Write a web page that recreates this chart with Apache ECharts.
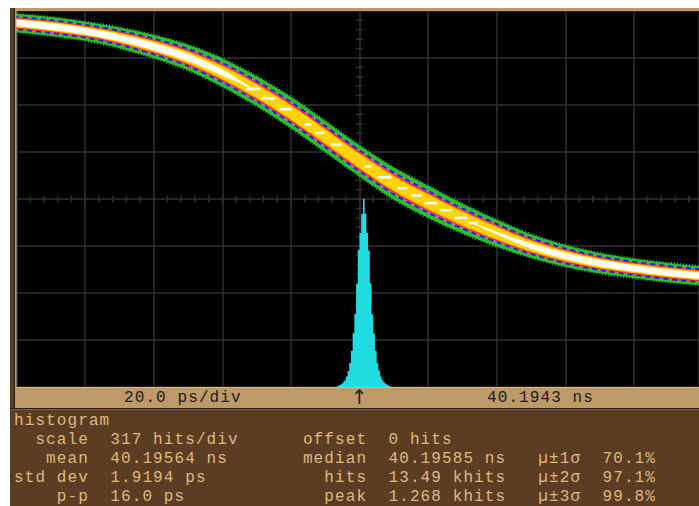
<!DOCTYPE html>
<html><head><meta charset="utf-8">
<style>
html,body{margin:0;padding:0;background:#fff;overflow:hidden}
#c{width:699px;height:506px}
text{letter-spacing:1.1px}
</style>
<script src="https://cdn.jsdelivr.net/npm/echarts@6/dist/echarts.min.js"></script>
</head><body><div id="c"></div>
<script>
// Waveform envelope, sampled in ps relative to screen centre; edges in divisions above the bottom graticule line
const waveTime = [-100,-90,-80,-70,-60,-50,-40,-30,-20,-10,0,10,20,30,40,50,60,70,80,90,99];
const greenTop = [7.94,7.87,7.77,7.65,7.49,7.28,6.99,6.61,6.17,5.66,5.14,4.67,4.28,3.90,3.56,3.25,3.02,2.85,2.73,2.64,2.57];
const greenBottom = [7.55,7.47,7.37,7.21,7.00,6.74,6.39,5.98,5.51,5.00,4.48,3.99,3.60,3.27,2.99,2.75,2.56,2.42,2.32,2.23,2.17];
const whiteShare = [0.34,0.34,0.34,0.33,0.32,0.28,0.22,0,0,0,0,0,0,0,0.1,0.24,0.3,0.33,0.33,0.33,0.33];
const whiteDashes = [[-33.2,-29.1],[-28.5,-24.7],[-23.3,-19.8],[-16,-14],[-12.8,-10.2],[-8.2,-5.2],[1.5,3.5],[5.2,9.3],[11.1,14],[15.1,18],[18.9,22.7],[23.3,26.8],[27.7,31.4],[32,34.4]];
// Histogram bins: ps relative to centre, hits
const histTime = [-6.75,-6.25,-5.75,-5.25,-4.75,-4.25,-3.75,-3.25,-2.75,-2.25,-1.75,-1.25,-0.75,-0.25,0.25,0.75,1.25,1.75,2.25,2.75,3.25,3.75,4.25,4.75,5.25,5.75,6.25,6.75,7.25,7.75,8.25,8.75,9.25];
const histHits = [0,7,13,20,30,44,71,108,162,243,364,492,695,924,1039,1167,1268,1170,1040,920,700,490,360,245,160,110,70,45,30,20,13,7,0];
// Read-out text
const stripLeft = '20.0 ps/div', stripArrow = '↑', stripRight = '40.1943 ns';
const titleText = 'histogram';
const col1 = [['scale',2],['mean',3],['std dev',0],['p-p',4]];
const val1 = ['317 hits/div','40.19564 ns','1.9194 ps','16.0 ps'];
const col2 = [['offset',27],['median',27],['hits',29],['peak',29]];
const val2 = ['0 hits','40.19585 ns','13.49 khits','1.268 khits'];
const sigmaLabels = ['µ±1σ','µ±2σ','µ±3σ'];
const sigmaValues = ['70.1%','97.1%','99.8%'];

const TAN='#bd9a68', BROWN='#5b3d23', DARK='#2a1c10', INK='#dfb87f';
const FONT='16px "Liberation Mono"';
const colX=n=>14+n*10.7, rowY=[421,439.5,458.5,477.5,496.5];
const txt=(s,x,y,fill,align,font)=>({type:'text',z:100,x,y,silent:true,style:{text:s,x:0,y:0,font:font||FONT,fill:fill||INK,align:align||'left',verticalAlign:'middle'}});
const rect=(x,y,w,h,f)=>({type:'rect',z:90,silent:true,shape:{x,y,width:w,height:h},style:{fill:f}});
const g=[rect(10,8,4,400,BROWN),rect(14,8,685,3,TAN),rect(14,8,1,400,DARK),rect(15,11,1.5,376,TAN),
 rect(15,387,684,1,'#d8b888'),rect(15,388,684,20,TAN),rect(10,408,689,1.5,DARK),rect(10,409.5,689,96.5,BROWN),
 txt(stripLeft,124,398,'#1c1c1c'),txt(stripArrow,360,397,'#1c1c1c','center','20px "DejaVu Sans"'),txt(stripRight,487,398,'#1c1c1c'),
 txt(titleText,colX(0),rowY[0])];
col1.forEach((c,i)=>{g.push(txt(c[0],colX(c[1]),rowY[i+1]),txt(val1[i],colX(9),rowY[i+1]),txt(col2[i][0],colX(col2[i][1]),rowY[i+1]),txt(val2[i],colX(35),rowY[i+1]));});
sigmaLabels.forEach((s,i)=>{g.push(txt(s,colX(49),rowY[i+2]),txt(sigmaValues[i],colX(55),rowY[i+2]));});

const layers=[
 {share:1,fill:'#2cbf2c',stroke:'#2cbf2c',dash:[1,2],w:2.5},
 {share:.68,fill:'#f04cc0',stroke:'#1c1cf0',dash:[5,4],w:1.8},
 {share:.58,fill:'#dd1010'},
 {share:.52,fill:'#ff9200'},
 {share:.44,fill:'#ffd400'},
 {share:null,fill:'#ffffff'}];
const centre=i=>(greenTop[i]+greenBottom[i])/2;
const half=i=>(greenTop[i]-greenBottom[i])/2;
function centreAt(t){for(let i=0;i<waveTime.length-1;i++){if(t<=waveTime[i+1]){const f=(t-waveTime[i])/(waveTime[i+1]-waveTime[i]);return centre(i)+f*(centre(i+1)-centre(i));}}return centre(waveTime.length-1);}
function band(l,api){
 const up=[],dn=[],last=waveTime.length-1;
 const s=i=>l.share==null?whiteShare[i]:l.share;
 up.push(api.coord([waveTime[0]-6,centre(0)+half(0)*s(0)+0.04]));
 dn.unshift(api.coord([waveTime[0]-6,centre(0)-half(0)*s(0)+0.04]));
 waveTime.forEach((t,i)=>{up.push(api.coord([t,centre(i)+half(i)*s(i)]));dn.unshift(api.coord([t,centre(i)-half(i)*s(i)]));});
 up.push(api.coord([waveTime[last]+6,centre(last)+half(last)*s(last)-0.04]));
 dn.unshift(api.coord([waveTime[last]+6,centre(last)-half(last)*s(last)-0.04]));
 return up.concat(dn);
}
const ticksX=[],ticksY=[];
for(let t=-100;t<=96;t+=4)ticksX.push(t);
for(let v=0;v<=8;v+=0.2)ticksY.push(+v.toFixed(1));

const option={animation:false,backgroundColor:'#fff',
 grid:{left:16.6,top:11,width:683.6,height:376,show:true,backgroundColor:'#000',borderWidth:0},
 xAxis:{type:'value',min:-100,max:99,interval:20,axisLine:{show:false},axisTick:{show:false},axisLabel:{show:false},splitLine:{show:true,lineStyle:{color:'#303030',width:1.5}}},
 yAxis:[{type:'value',min:0,max:2536,interval:317,axisLine:{show:false},axisTick:{show:false},axisLabel:{show:false},splitLine:{show:true,lineStyle:{color:'#303030',width:1.5}}},
  {type:'value',min:0,max:8,interval:1,show:false}],
 graphic:{elements:g},
 series:[
 {type:'custom',yAxisIndex:1,z:2,clip:true,silent:true,data:ticksX.map(t=>[t,4]),renderItem:(p,api)=>{const c=api.coord([api.value(0),api.value(1)]);
   return {type:'line',shape:{x1:c[0],y1:c[1]-3.5,x2:c[0],y2:c[1]+3.5},style:{stroke:'#303030',lineWidth:1.5}};}},
 {type:'custom',yAxisIndex:1,z:2,clip:true,silent:true,data:ticksY.map(v=>[0,v]),renderItem:(p,api)=>{const c=api.coord([api.value(0),api.value(1)]);
   return {type:'line',shape:{x1:c[0]-3.5,y1:c[1],x2:c[0]+3.5,y2:c[1]},style:{stroke:'#303030',lineWidth:1.5}};}},
 {type:'line',yAxisIndex:0,z:3,silent:true,step:'middle',symbol:'none',lineStyle:{width:0},itemStyle:{color:'#1fdde0'},areaStyle:{color:'#1fdde0',opacity:1},data:histTime.map((t,i)=>[t,histHits[i]])},
 {type:'custom',yAxisIndex:1,z:4,clip:true,silent:true,data:layers.map((l,i)=>[0,4,i]),renderItem:(p,api)=>{const l=layers[api.value(2)];
   return {type:'polygon',shape:{points:band(l,api),smooth:0.3},style:{fill:l.fill,stroke:l.stroke||null,lineWidth:l.w||0,lineDash:l.dash||null}};}},
 {type:'custom',yAxisIndex:1,z:5,clip:true,silent:true,data:whiteDashes.map(d=>[d[0],centreAt((d[0]+d[1])/2),d[1]]),renderItem:(p,api)=>{const a=api.coord([api.value(0),api.value(1)]),b=api.coord([api.value(2),api.value(1)]);
   return {type:'line',shape:{x1:a[0],y1:a[1],x2:b[0],y2:b[1]},style:{stroke:'#fff',lineWidth:2.5}};}}
 ]};
echarts.init(document.getElementById('c'),null,{renderer:'svg'}).setOption(option);
</script></body></html>
